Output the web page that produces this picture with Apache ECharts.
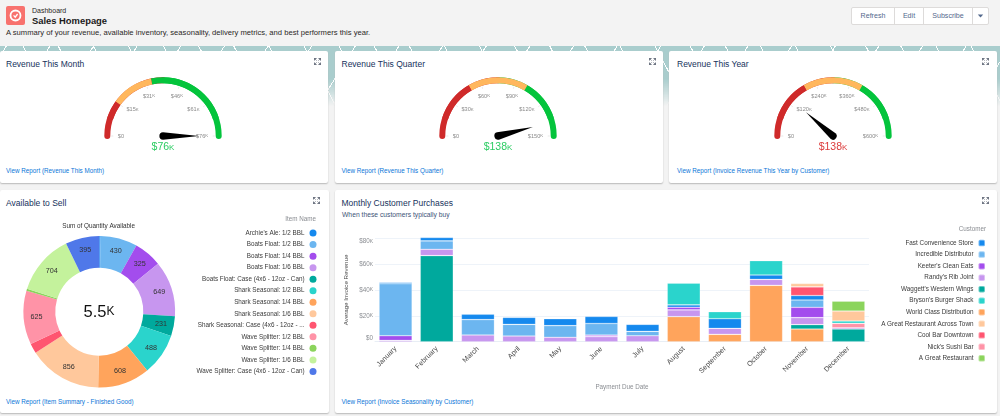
<!DOCTYPE html>
<html>
<head>
<meta charset="utf-8">
<title>Sales Homepage</title>
<script src="https://cdn.jsdelivr.net/npm/echarts@6/dist/echarts.min.js"></script>
<style>
  html, body { margin: 0; padding: 0; width: 1000px; height: 416px; overflow: hidden; background: #f3f3f3; font-family: "Liberation Sans", Arial, sans-serif; }
  .abs { position: absolute; }
  #strip { position: absolute; left: 0; top: 46px; width: 1000px; height: 60px;
    background-color: #a9cdcd;
    background-image:
      repeating-linear-gradient(62deg, transparent 0 17px, #fff 17px 18px, transparent 18px 31px),
      repeating-linear-gradient(-58deg, transparent 0 23px, #fff 23px 24px, transparent 24px 37px);
    -webkit-mask-image: linear-gradient(#000 55%, transparent 100%); }
  .card { position: absolute; background: #fff; border-radius: 2px; box-shadow: 0 1px 1.5px #b9b9b9; }
  .ttl { position: absolute; font-size: 8.5px; color: #16325c; white-space: nowrap; }
  .sub { position: absolute; font-size: 6.75px; color: #3e5478; white-space: nowrap; }
  .lnk { position: absolute; font-size: 6.3px; color: #0a76d8; white-space: nowrap; }
  .exp { position: absolute; width: 7px; height: 7px; }
  #buttons { position: absolute; left: 851px; top: 7px; height: 16px; display: flex; background: #fff; border: 1px solid #dddbda; border-radius: 2px; font-size: 7.1px; color: #54698d; line-height: 16px; }
  #buttons div { text-align: center; border-left: 1px solid #dddbda; box-sizing: border-box; }
  #buttons div:first-child { border-left: 0; }
  #chart { position: absolute; left: 0; top: 0; width: 1000px; height: 416px; }
</style>
</head>
<body>
<div id="strip"></div>

<div class="abs" style="left:6px;top:6px;width:19px;height:19px;background:#f8726e;border-radius:2px"></div>
<svg class="abs" style="left:6px;top:6px" width="19" height="19" viewBox="0 0 19 19">
  <circle cx="9.5" cy="9.5" r="5" fill="none" stroke="#fff" stroke-width="1.8"/>
  <path d="M7.6 9.4l1.6 1.8 2.4-3.2" fill="none" stroke="#fff" stroke-width="1.3"/>
</svg>
<div class="abs" style="left:32px;top:6.5px;font-size:7px;color:#2b2826">Dashboard</div>
<div class="abs" style="left:32px;top:14.5px;font-size:9.4px;font-weight:bold;color:#1a1a1a">Sales Homepage</div>
<div class="abs" style="left:6px;top:27.5px;font-size:7.63px;color:#2b2826;white-space:nowrap">A summary of your revenue, available inventory, seasonality, delivery metrics, and best performers this year.</div>
<div id="buttons">
  <div style="width:42px">Refresh</div>
  <div style="width:29px">Edit</div>
  <div style="width:49px">Subscribe</div>
  <div style="width:16px"><svg width="7" height="16" viewBox="0 0 7 16"><path d="M.8 6.4h5.4L3.5 9.6z" fill="#54698d"/></svg></div>
</div>

<div class="card" style="left:0;top:51px;width:328px;height:132px"></div>
<div class="card" style="left:335px;top:51px;width:328px;height:132px"></div>
<div class="card" style="left:669px;top:51px;width:328px;height:132px"></div>
<div class="card" style="left:0;top:190px;width:329px;height:223px"></div>
<div class="card" style="left:335px;top:190px;width:662px;height:223px"></div>

<div class="ttl" style="left:6px;top:59px">Revenue This Month</div>
<div class="ttl" style="left:341.5px;top:59px">Revenue This Quarter</div>
<div class="ttl" style="left:677px;top:59px">Revenue This Year</div>
<div class="ttl" style="left:6px;top:197.5px">Available to Sell</div>
<div class="ttl" style="left:341.5px;top:197.5px">Monthly Customer Purchases</div>
<div class="sub" style="left:342px;top:211px">When these customers typically buy</div>

<div class="lnk" style="left:6px;top:167px">View Report (Revenue This Month)</div>
<div class="lnk" style="left:341.5px;top:167px">View Report (Revenue This Quarter)</div>
<div class="lnk" style="left:677px;top:167px">View Report (Invoice Revenue This Year by Customer)</div>
<div class="lnk" style="left:6px;top:397.5px">View Report (Item Summary - Finished Good)</div>
<div class="lnk" style="left:341.5px;top:397.5px">View Report (Invoice Seasonality by Customer)</div>

<div id="chart"></div>

<script>
  var months = ['January', 'February', 'March', 'April', 'May', 'June', 'July', 'August', 'September', 'October', 'November', 'December'];

  // stacked bars, in thousands, bottom of the stack first
  var worldClass = [0, 0, 0, 0, 0, 0, 0, 19.4, 5.7, 43.6, 9.8, 0];
  var waggett = [0, 66.6, 0, 0, 0, 0, 0, 0, 0, 0, 3.4, 9.8];
  var randy = [1, 4.9, 5.2, 4.4, 3.4, 3.9, 4.6, 5.2, 4.6, 4.6, 5.4, 1];
  var keeter = [3.6, 0, 0, 0, 0, 1.2, 0, 2.1, 0, 0, 8, 0];
  var incredible = [40.2, 6.5, 11.9, 9, 9, 9, 3.4, 0, 0, 0, 5.7, 0];
  var fastStore = [1, 2.6, 4.1, 5.4, 5.4, 5.4, 5.4, 1.8, 7.5, 3.4, 3.4, 0];
  var nick = [0, 0, 0, 0, 0, 0, 0, 0, 0, 0, 0, 3.4];
  var bryson = [0, 0, 0, 0, 0, 0, 0, 16.8, 5.4, 11.1, 0, 1.8];
  var coolBar = [0, 0, 0, 0, 0, 0, 0, 0, 0, 0, 6.7, 0];
  var acrossTown = [0, 0, 0, 0, 0, 0, 0, 0, 0, 0, 2.6, 7.7];
  var greatRestaurant = [0, 0, 0, 0, 0, 0, 0, 0, 0, 0, 0, 7.7];
  var customerLegend = ['Fast Convenience Store', 'Incredible Distributor', "Keeter's Clean Eats", "Randy's Rib Joint", "Waggett's Western Wings", "Bryson's Burger Shack", 'World Class Distribution', 'A Great Restaurant Across Town', 'Cool Bar Downtown', "Nick's Sushi Bar", 'A Great Restaurant'];

  var itemNames = ["Archie's Ale: 1/2 BBL", 'Boats Float: 1/2 BBL', 'Boats Float: 1/4 BBL', 'Boats Float: 1/6 BBL', 'Boats Float: Case (4x6 - 12oz - Can)', 'Shark Seasonal: 1/2 BBL', 'Shark Seasonal: 1/4 BBL', 'Shark Seasonal: 1/6 BBL', 'Shark Seasonal: Case (4x6 - 12oz - ...', 'Wave Splitter: 1/2 BBL', 'Wave Splitter: 1/4 BBL', 'Wave Splitter: 1/6 BBL', 'Wave Splitter: Case (4x6 - 12oz - Can)'];
  var itemValues = [15, 430, 325, 649, 231, 488, 608, 856, 115, 625, 25, 704, 395];
  var itemColors = ['#1589ee', '#6cb6f0', '#a34ded', '#c796ef', '#00a99d', '#2ad4cc', '#ffa45c', '#ffc89c', '#ff5570', '#ff93a7', '#8bd45c', '#c4f29c', '#4f78e9'];

  var monthTicks = ['$0', '$15K', '$31K', '$46K', '$61K', '$76K'];
  var quarterTicks = ['$0', '$30K', '$60K', '$90K', '$120K', '$150K'];
  var yearTicks = ['$0', '$120K', '$240K', '$360K', '$480K', '$600K'];

  var RED = '#cf2a2a', ORANGE = '#ffb75d', GREEN = '#04c43c', NONE = 'rgba(0,0,0,0)';

  // $76K -> small capital K like the dashboard does it
  function smallK(text) {
    return text.replace(/^(.*)K$/, '{n|$1}{k|K}');
  }

  // only there for the two round ends of the arc, the bands go on top of it
  function gaugeEnds(cx) {
    return {
      type: 'gauge',
      center: [cx, 136],
      radius: 58.7,
      startAngle: 180,
      endAngle: 0,
      axisLine: { roundCap: true, lineStyle: { width: 6, color: [[0.5, RED], [1, GREEN]] } },
      axisTick: { show: false },
      splitLine: { show: false },
      axisLabel: { show: false },
      pointer: { show: false },
      anchor: { show: false },
      title: { show: false },
      detail: { show: false },
      data: [{ value: 0 }]
    };
  }

  function gauge(cx, value, label, max, ticks, bands, valueColor) {
    return {
      type: 'gauge',
      center: [cx, 136],
      radius: 58.7,
      min: 0,
      max: max,
      startAngle: 180,
      endAngle: 0,
      splitNumber: 5,
      axisLine: { lineStyle: { width: 6, color: bands } },
      axisTick: { show: false },
      splitLine: { length: 2, distance: 1, lineStyle: { color: '#d8d8d8', width: 0.6 } },
      axisLabel: {
        distance: 10.5,
        color: '#8a8a8a',
        fontSize: 5.6,
        formatter: function (v) {
          return smallK(ticks[Math.round(v / max * 5)]);
        },
        rich: { n: { fontSize: 5.6, color: '#8a8a8a' }, k: { fontSize: 4.4, color: '#8a8a8a' } }
      },
      pointer: {
        icon: 'path://M4 0L8 36A4 3.6 0 1 1 0 36Z',
        width: 7.5,
        length: 39.6,
        offsetCenter: [0, 3.6],
        itemStyle: { color: '#000' }
      },
      anchor: { show: false },
      title: { show: false },
      detail: {
        offsetCenter: [0, 11.5],
        formatter: function () { return smallK(label); },
        rich: {
          n: { fontSize: 10.5, fontWeight: 'normal', color: valueColor },
          k: { fontSize: 8, fontWeight: 'normal', color: valueColor }
        }
      },
      data: [{ value: value }]
    };
  }

  function barSeries(name, color, values) {
    return {
      name: name,
      type: 'bar',
      stack: 'customer',
      clip: false,
      barWidth: 33,
      xAxisIndex: 0,
      yAxisIndex: 0,
      itemStyle: { color: color, borderColor: 'rgba(255,255,255,0.4)', borderWidth: 0.6 },
      data: values.map(function (v) { return v === 0 ? null : v; })
    };
  }

  var thirds = [[0.1, NONE], [0.333, RED], [0.667, ORANGE], [0.9, GREEN], [1, NONE]];

  var option = {
    animation: false,
    textStyle: { fontFamily: '"Liberation Sans", Arial, sans-serif' },
    title: [
      { text: 'Sum of Quantity Available', left: 98.6, top: 222.8, padding: 0, textAlign: 'center', textStyle: { fontSize: 6.35, fontWeight: 'normal', color: '#333' } },
      { text: 'Item Name', left: 316, top: 215.8, padding: 0, textAlign: 'right', textStyle: { fontSize: 6.3, fontWeight: 'normal', color: '#8a8d92' } },
      { text: 'Customer', left: 986, top: 226, padding: 0, textAlign: 'right', textStyle: { fontSize: 6.3, fontWeight: 'normal', color: '#8a8d92' } },
      { text: '{n|5.5}{k|K}', left: 99, top: 303.5, padding: 0, textAlign: 'center', textStyle: { fontWeight: 'normal', rich: { n: { fontSize: 16.5, fontWeight: 'normal', color: '#111' }, k: { fontSize: 12, fontWeight: 'normal', color: '#111' } } } }
    ],
    legend: [{
      data: itemNames,
      orient: 'vertical',
      align: 'right',
      right: 683.5,
      top: 227.3,
      icon: 'circle',
      itemWidth: 7,
      itemHeight: 7,
      itemGap: 0,
      selectedMode: false,
      textStyle: { fontSize: 6.3, color: '#3a3a3a', lineHeight: 11.53 },
      padding: 0
    }, {
      data: customerLegend,
      orient: 'vertical',
      align: 'right',
      right: 14,
      top: 237.3,
      icon: 'roundRect',
      itemWidth: 6.5,
      itemHeight: 6.5,
      itemGap: 0,
      selectedMode: false,
      textStyle: { fontSize: 6.35, color: '#3a3a3a', lineHeight: 11.53 },
      padding: 0
    }],
    grid: { left: 375, right: 131, top: 238.3, height: 103.4 },
    xAxis: {
      type: 'category',
      data: months,
      axisTick: { show: false },
      axisLine: { lineStyle: { color: '#e8eef5' } },
      axisLabel: { rotate: 45, fontSize: 7.1, color: '#4a4a4a', margin: 6, interval: 0 },
      name: 'Payment Due Date',
      nameLocation: 'middle',
      nameGap: 46,
      nameTextStyle: { fontSize: 6.3, color: '#8a8d92', verticalAlign: 'middle' }
    },
    yAxis: {
      type: 'value',
      min: 0,
      max: 80,
      interval: 20,
      axisLine: { show: false },
      axisTick: { show: false },
      splitLine: { lineStyle: { color: '#eef3f9' } },
      axisLabel: {
        margin: 2,
        fontSize: 6.3,
        color: '#8a8d92',
        verticalAlignMinLabel: 'bottom',
        verticalAlignMaxLabel: 'top',
        formatter: function (v) { return v === 0 ? '$0' : '{n|$' + v + '}{k|K}'; },
        rich: { n: { fontSize: 6.3, color: '#8a8d92' }, k: { fontSize: 5, color: '#8a8d92' } }
      },
      name: 'Average Invoice Revenue',
      nameLocation: 'middle',
      nameGap: 29,
      nameTextStyle: { fontSize: 6.2, color: '#444', verticalAlign: 'middle' }
    },
    series: [
      gaugeEnds(163),
      gauge(163, 76, '$76K', 76, monthTicks, [[0.1, NONE], [0.2, RED], [0.434, ORANGE], [0.9, GREEN], [1, NONE]], '#2bcc62'),
      gaugeEnds(498),
      gauge(498, 138, '$138K', 150, quarterTicks, thirds, '#2bcc62'),
      gaugeEnds(833),
      gauge(833, 138, '$138K', 600, yearTicks, thirds, '#dc3b3b'),
      {
        type: 'pie',
        center: [99.3, 311.7],
        radius: [44, 75.8],
        startAngle: 90,
        clockwise: true,
        label: {
          position: 'inside',
          fontSize: 7.2,
          color: '#333',
          formatter: function (p) { return p.value > 200 ? p.value : ''; }
        },
        labelLine: { show: false },
        data: itemNames.map(function (n, i) {
          return { name: n, value: itemValues[i], itemStyle: { color: itemColors[i] } };
        })
      },
      barSeries('World Class Distribution', '#ffa45c', worldClass),
      barSeries("Waggett's Western Wings", '#00a99d', waggett),
      barSeries("Randy's Rib Joint", '#c796ef', randy),
      barSeries("Keeter's Clean Eats", '#a34ded', keeter),
      barSeries('Incredible Distributor', '#6cb6f0', incredible),
      barSeries('Fast Convenience Store', '#1589ee', fastStore),
      barSeries("Nick's Sushi Bar", '#ff93a7', nick),
      barSeries("Bryson's Burger Shack", '#2ad4cc', bryson),
      barSeries('Cool Bar Downtown', '#ff5570', coolBar),
      barSeries('A Great Restaurant Across Town', '#ffc89c', acrossTown),
      barSeries('A Great Restaurant', '#8bd45c', greatRestaurant)
    ]
  };

  var myChart = echarts.init(document.getElementById('chart'));
  myChart.setOption(option);

  // expand icons on every card
  [[317, 61.7], [652.3, 61.7], [985.7, 61.7], [316.7, 200], [985.7, 200]].forEach(function (p) {
    var s = document.createElementNS('http://www.w3.org/2000/svg', 'svg');
    s.setAttribute('class', 'exp');
    s.setAttribute('viewBox', '0 0 7 7');
    s.style.left = (p[0] - 3.5) + 'px';
    s.style.top = (p[1] - 3.5) + 'px';
    s.innerHTML = '<path d="M0 0h2.6L0 2.6zM7 0v2.6L4.4 0zM0 7V4.4L2.6 7zM7 7H4.4L7 4.4zM1 1l1.8 1.8M6 1L4.2 2.8M1 6l1.8-1.8M6 6L4.2 4.2" fill="#6b7280" stroke="#6b7280" stroke-width=".6"/>';
    document.body.appendChild(s);
  });
</script>
</body>
</html>
